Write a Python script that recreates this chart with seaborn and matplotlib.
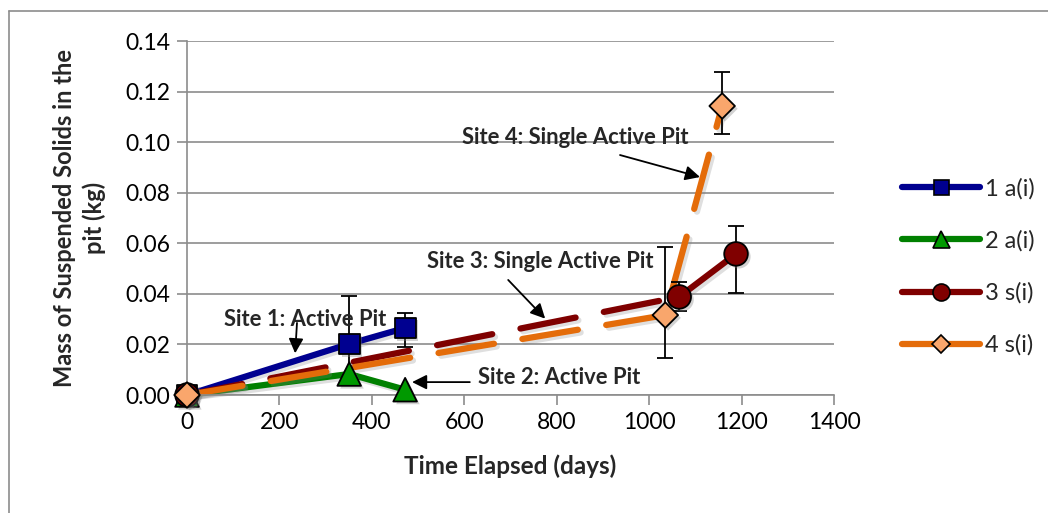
import numpy as np
import pandas as pd
import matplotlib
matplotlib.use("Agg")
import matplotlib.pyplot as plt
import matplotlib.patheffects as pe
from matplotlib.lines import Line2D
import seaborn as sns

# Elapsed time (days), suspended-solids mass (kg) and error extents (below / above) per site
site1_days = [0, 351, 472]
site1_mass = [0.0, 0.0202, 0.0265]
site1_err_lo = [0.0, 0.015, 0.0075]
site1_err_hi = [0.0, 0.019, 0.006]

site2_days = [0, 351, 472]
site2_mass = [0.0, 0.0083, 0.0021]

site3_days = [0, 1065, 1188]
site3_mass = [0.0, 0.0388, 0.0558]
site3_err_lo = [0.0, 0.0057, 0.0155]
site3_err_hi = [0.0, 0.0057, 0.011]

site4_days = [0, 1035, 1158]
site4_mass = [0.0, 0.0316, 0.1143]
site4_err_lo = [0.0, 0.017, 0.011]
site4_err_hi = [0.0, 0.0269, 0.0134]

labels = ["1 a(i)", "2 a(i)", "3 s(i)", "4 s(i)"]
y_ticks = [0.00, 0.02, 0.04, 0.06, 0.08, 0.10, 0.12, 0.14]
x_ticks = [0, 200, 400, 600, 800, 1000, 1200, 1400]

sns.set_theme(style="white")
plt.rcParams["font.family"] = ["Lato", "DejaVu Sans"]

fig = plt.figure(figsize=(10.48, 5.13), dpi=100)
ax = fig.add_axes([187 / 1048, 1 - 395 / 513, (834 - 187) / 1048, (395 - 41) / 513])

# chart-area frame
fig.add_artist(Line2D([9 / 1048, 9 / 1048], [0, 1 - 11 / 513], transform=fig.transFigure,
                      color="#8c8c8c", lw=1.2))
fig.add_artist(Line2D([9 / 1048, 1], [1 - 11 / 513, 1 - 11 / 513], transform=fig.transFigure,
                      color="#8c8c8c", lw=1.2))

line_shadow = [pe.SimpleLineShadow(offset=(2, -2), shadow_color="gray", alpha=0.25), pe.Normal()]
mark_shadow = [pe.SimplePatchShadow(offset=(2, -2), shadow_rgbFace="gray", alpha=0.35), pe.Normal()]

series = [
    dict(x=site1_days, y=site1_mass, lo=site1_err_lo, hi=site1_err_hi, color="#000090",
         marker="s", mfc="#000090", ms=15, dashes=None),
    dict(x=site2_days, y=site2_mass, lo=None, hi=None, color="#008000",
         marker="^", mfc="#009900", ms=17, dashes=None),
    dict(x=site3_days, y=site3_mass, lo=site3_err_lo, hi=site3_err_hi, color="#7f0000",
         marker="o", mfc="#800000", ms=17, dashes=(9, 4.6)),
    dict(x=site4_days, y=site4_mass, lo=site4_err_lo, hi=site4_err_hi, color="#e46c0a",
         marker="D", mfc="#f9a66c", ms=13, dashes=(9, 4.6)),
]

for s in series:
    df = pd.DataFrame({"days": s["x"], "mass": s["y"]})
    sns.lineplot(data=df, x="days", y="mass", ax=ax, color=s["color"], lw=4.5,
                 legend=False, sort=False)
    line = ax.lines[-1]
    line.set_solid_capstyle("round")
    line.set_dash_capstyle("round")
    if s["dashes"] is not None:
        line.set_dashes(s["dashes"])
    line.set_path_effects(line_shadow)
    line.set_clip_on(False)
    line.set_zorder(2)

for s in series:
    if s["lo"] is not None:
        ax.errorbar(s["x"][1:], s["y"][1:], yerr=[s["lo"][1:], s["hi"][1:]], fmt="none",
                    ecolor="black", elinewidth=1.3, capsize=6, capthick=1.3, zorder=3)

for s in series:
    df = pd.DataFrame({"days": s["x"], "mass": s["y"]})
    sns.scatterplot(data=df, x="days", y="mass", ax=ax, marker=s["marker"], s=s["ms"] ** 2,
                    color=s["mfc"], edgecolor="black", linewidth=1.3, legend=False, zorder=4)
    pts = ax.collections[-1]
    pts.set_path_effects(mark_shadow)
    pts.set_clip_on(False)

# axes styling
ax.set_xlim(0, 1400)
ax.set_ylim(0, 0.14)
ax.set_xticks(x_ticks)
ax.set_xticklabels([str(t) for t in x_ticks])
ax.set_yticks(y_ticks)
ax.set_yticklabels([f"{t:.2f}" for t in y_ticks])
ax.yaxis.grid(True, color="#8c8c8c", lw=1.2)
ax.xaxis.grid(False)
ax.set_axisbelow(True)
for side in ["top", "right"]:
    ax.spines[side].set_visible(False)
for side in ["left", "bottom"]:
    ax.spines[side].set_color("#8c8c8c")
    ax.spines[side].set_linewidth(1.2)
ax.tick_params(axis="both", which="major", direction="out", length=7, width=1.2,
               color="#8c8c8c", labelsize=16.5, labelcolor="black", pad=5,
               left=True, bottom=True)
ax.set_xlabel("Time Elapsed (days)", fontsize=17.5, fontweight="bold", labelpad=16)
ax.set_ylabel("Mass of Suspended Solids in the\npit (kg)", fontsize=17, fontweight="bold",
              labelpad=14, linespacing=1.3)

# site annotations
arrow = dict(arrowstyle="-|>", color="black", lw=1.3, mutation_scale=22, shrinkA=0, shrinkB=0)
notes = [
    ("Site 1: Active Pit", (255, 0.0297), (238, 0.0285), (234, 0.0165)),
    ("Site 2: Active Pit", (805, 0.0071), (612, 0.0051), (487, 0.0051)),
    ("Site 3: Single Active Pit", (764, 0.0526), (695, 0.0455), (775, 0.0302)),
    ("Site 4: Single Active Pit", (840, 0.1020), (937, 0.0949), (1110, 0.0862)),
]
for text, pos, start, tip in notes:
    ax.annotate("", xy=tip, xytext=start, arrowprops=arrow, zorder=5)
    ax.text(pos[0], pos[1], text, ha="center", va="center", fontsize=15.8,
            fontweight="bold", zorder=6)

# legend
handles = []
for s in series:
    handles.append(Line2D([0], [0], color=s["color"], lw=4.5, solid_capstyle="round",
                          marker=s["marker"], markerfacecolor=s["mfc"], markeredgecolor="black",
                          markeredgewidth=1.2, markersize=s["ms"] * 0.72))
fig.legend(handles, labels, loc="center left", bbox_to_anchor=(893 / 1048, 1 - 267 / 513),
           frameon=False, fontsize=17, handlelength=3.3, labelspacing=1.3, handletextpad=0.2,
           borderaxespad=0)

fig.savefig("out.png", dpi=100)
